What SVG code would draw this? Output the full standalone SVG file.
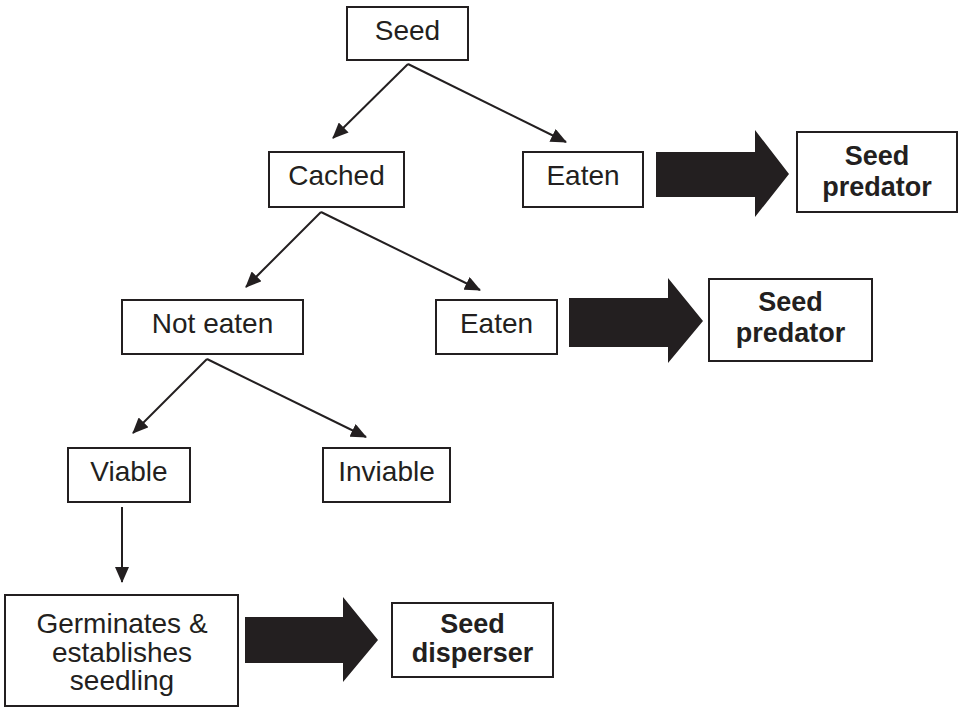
<svg xmlns="http://www.w3.org/2000/svg" width="960" height="708" viewBox="0 0 960 708">
<defs>
<marker id="ah" markerWidth="16" markerHeight="14" refX="15" refY="7" orient="auto" markerUnits="userSpaceOnUse">
<path d="M0,0 L16,7 L0,14 Z" fill="#231f20"/>
</marker>
<style>
.box{fill:#fff;stroke:#231f20;stroke-width:2}
.t{font-family:"Liberation Sans",Arial,sans-serif;font-size:28px;fill:#231f20;text-anchor:middle}
.b{font-family:"Liberation Sans",Arial,sans-serif;font-size:27px;font-weight:bold;fill:#231f20;text-anchor:middle}
.ln{stroke:#231f20;stroke-width:2;fill:none;marker-end:url(#ah)}
.big{fill:#231f20}
</style>
</defs>
<rect width="960" height="708" fill="#fff"/>
<g id="connectors">
<line class="ln" x1="408" y1="64" x2="333" y2="138"/>
<line class="ln" x1="408" y1="64" x2="566" y2="142"/>
<line class="ln" x1="321" y1="212" x2="246" y2="287"/>
<line class="ln" x1="321" y1="212" x2="480" y2="290"/>
<line class="ln" x1="207" y1="359" x2="133" y2="433"/>
<line class="ln" x1="207" y1="359" x2="366" y2="437"/>
<line class="ln" x1="122" y1="507" x2="122" y2="582"/>
<path class="big" d="M656,152 L755,152 L755,130 L789,174 L755,217 L755,197 L656,197 Z"/>
<path class="big" d="M569,298 L668,298 L668,278 L703,321 L668,363 L668,347 L569,347 Z"/>
<path class="big" d="M245,617 L343,617 L343,597 L378,640 L343,682 L343,663 L245,663 Z"/>
</g>
<g id="seed">
<rect class="box" x="347" y="7" width="121" height="53"/>
<text class="t" x="407.5" y="40">Seed</text>
</g>
<g id="cached">
<rect class="box" x="269" y="152" width="135" height="55"/>
<text class="t" x="336.5" y="185">Cached</text>
</g>
<g id="eaten1">
<rect class="box" x="523" y="152" width="120" height="55"/>
<text class="t" x="583" y="185">Eaten</text>
</g>
<g id="predator1">
<rect class="box" x="797" y="132" width="160" height="80"/>
<text class="b" x="877" y="165">Seed</text>
<text class="b" x="877" y="196">predator</text>
</g>
<g id="noteaten">
<rect class="box" x="122" y="300" width="181" height="54"/>
<text class="t" x="212.5" y="333">Not eaten</text>
</g>
<g id="eaten2">
<rect class="box" x="436" y="300" width="121" height="54"/>
<text class="t" x="496.5" y="333">Eaten</text>
</g>
<g id="predator2">
<rect class="box" x="709" y="279" width="163" height="82"/>
<text class="b" x="790.5" y="311">Seed</text>
<text class="b" x="790.5" y="342">predator</text>
</g>
<g id="viable">
<rect class="box" x="68" y="448" width="122" height="54"/>
<text class="t" x="129" y="481">Viable</text>
</g>
<g id="inviable">
<rect class="box" x="323" y="448" width="127" height="54"/>
<text class="t" x="386.5" y="481">Inviable</text>
</g>
<g id="germinates">
<rect class="box" x="5" y="595" width="233" height="111"/>
<text class="t" x="122" y="633">Germinates &amp;</text>
<text class="t" x="122" y="662">establishes</text>
<text class="t" x="122" y="690">seedling</text>
</g>
<g id="disperser">
<rect class="box" x="392" y="603" width="161" height="74"/>
<text class="b" x="472.5" y="633">Seed</text>
<text class="b" x="472.5" y="662">disperser</text>
</g>
</svg>
